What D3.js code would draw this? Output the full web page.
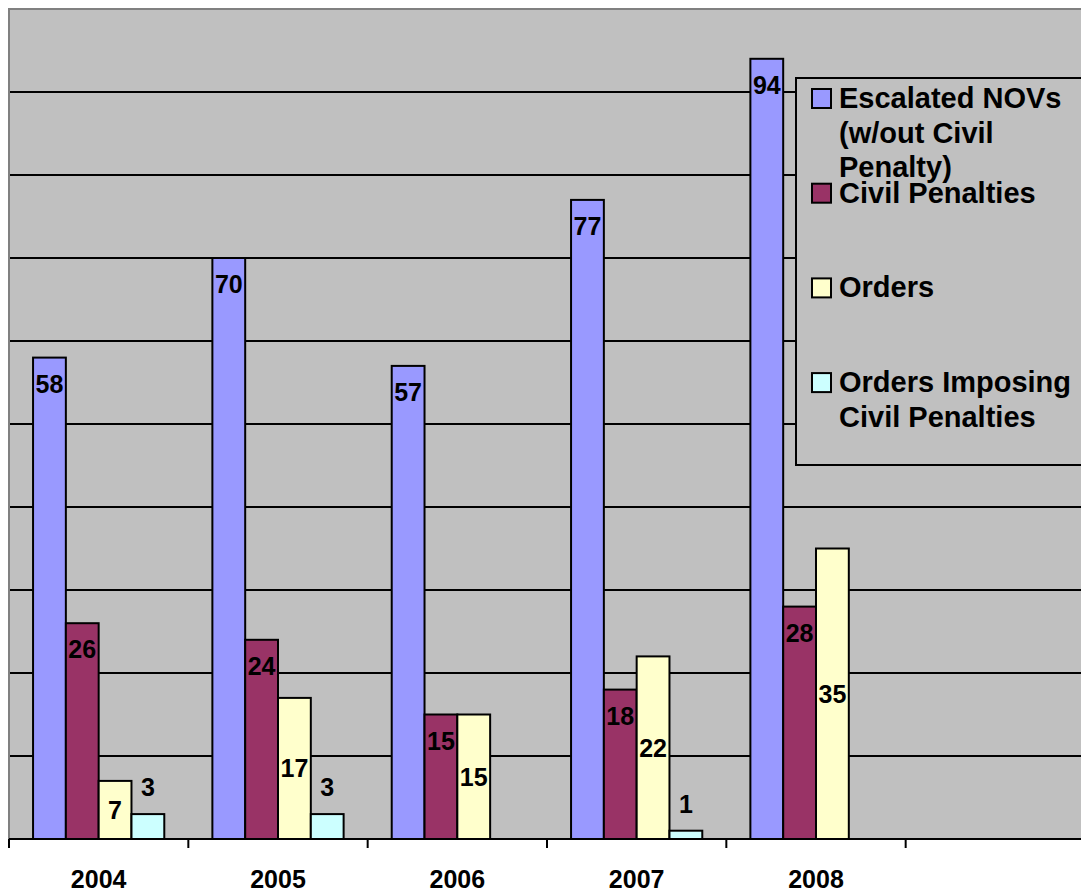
<!DOCTYPE html>
<html>
<head>
<meta charset="utf-8">
<script src="https://cdn.jsdelivr.net/npm/d3@7/dist/d3.min.js"></script>
<style>
  html, body { margin: 0; padding: 0; background: #ffffff; }
  svg { display: block; font-family: "Liberation Sans", Arial, sans-serif; font-weight: bold; }
</style>
</head>
<body>
<svg id="chart" width="1081" height="893"></svg>
<script>
// ---- Data ----
const categories = ["2004", "2005", "2006", "2007", "2008", ""];
const seriesNames = ["Escalated NOVs (w/out Civil Penalty)", "Civil Penalties", "Orders", "Orders Imposing Civil Penalties"];
const legendLines = [["Escalated NOVs", "(w/out Civil", "Penalty)"], ["Civil Penalties"], ["Orders"], ["Orders Imposing", "Civil Penalties"]];
const escalatedNOVs = [58, 70, 57, 77, 94];
const civilPenalties = [26, 24, 15, 18, 28];
const orders = [7, 17, 15, 22, 35];
const ordersImposing = [3, 3, 0, 1, 0];
const yTicks = [0, 10, 20, 30, 40, 50, 60, 70, 80, 90, 100];

const seriesValues = [escalatedNOVs, civilPenalties, orders, ordersImposing];
const colors = ["#9999FF", "#993366", "#FFFFCC", "#CCFFFF"];
const labelMode = ["insideEnd", "insideEnd", "center", "outsideEnd"];

// ---- Layout ----
const svg = d3.select("#chart");
const plot = { left: 9, top: 9, right: 1085, bottom: 839 };

const x0 = d3.scaleBand().domain(categories).range([plot.left, plot.right]).paddingInner(0).paddingOuter(0);
const x1 = d3.scaleBand().domain(d3.range(seriesNames.length)).range([0, x0.bandwidth()]).paddingInner(0).paddingOuter(0.733);
const y = d3.scaleLinear().domain([0, 100]).range([plot.bottom, plot.top]);

// plot background
svg.append("rect")
  .attr("x", plot.left).attr("y", plot.top)
  .attr("width", plot.right - plot.left).attr("height", plot.bottom - plot.top)
  .attr("fill", "#C0C0C0");

// gridlines
svg.append("g").selectAll("line")
  .data(yTicks.filter(t => t > 0 && t < 100))
  .join("line")
  .attr("x1", plot.left).attr("x2", plot.right)
  .attr("y1", d => y(d)).attr("y2", d => y(d))
  .attr("stroke", "#000").attr("stroke-width", 2);

// plot border (top & left gray)
svg.append("path")
  .attr("d", `M${plot.left},${plot.bottom}V${plot.top}H${plot.right}`)
  .attr("fill", "none").attr("stroke", "#808080").attr("stroke-width", 2);

// bars
const groups = svg.append("g").selectAll("g")
  .data(categories.slice(0, escalatedNOVs.length))
  .join("g")
  .attr("transform", d => `translate(${x0(d)},0)`);

groups.each(function(cat, ci) {
  const g = d3.select(this);
  seriesValues.forEach((vals, si) => {
    const v = vals[ci];
    if (!v) return;
    g.append("rect")
      .attr("x", x1(si)).attr("width", x1.bandwidth())
      .attr("y", y(v)).attr("height", y(0) - y(v))
      .attr("fill", colors[si]).attr("stroke", "#000").attr("stroke-width", 2);
    let cy;
    if (labelMode[si] === "insideEnd") cy = y(v) + 26;
    else if (labelMode[si] === "center") cy = (y(v) + y(0)) / 2;
    else cy = y(v) - 27;
    g.append("text")
      .attr("x", x1(si) + x1.bandwidth() / 2)
      .attr("y", cy + 9)
      .attr("text-anchor", "middle")
      .attr("font-size", 25)
      .attr("fill", "#000")
      .text(v);
  });
});

// x axis
svg.append("line")
  .attr("x1", plot.left).attr("x2", plot.right)
  .attr("y1", plot.bottom).attr("y2", plot.bottom)
  .attr("stroke", "#000").attr("stroke-width", 2);

const xAxis = d3.axisBottom(x0).tickSize(0).tickPadding(0);
const axG = svg.append("g").attr("transform", `translate(0,${plot.bottom})`).call(xAxis);
axG.select(".domain").remove();
axG.selectAll(".tick text")
  .attr("y", 49).attr("dy", 0)
  .attr("font-size", 25).attr("font-family", "Liberation Sans, Arial, sans-serif")
  .attr("font-weight", "bold").attr("fill", "#000");

// boundary ticks
const boundaries = categories.map(c => x0(c));
svg.append("g").selectAll("line")
  .data(boundaries)
  .join("line")
  .attr("x1", d => d).attr("x2", d => d)
  .attr("y1", plot.bottom).attr("y2", plot.bottom + 9)
  .attr("stroke", "#000").attr("stroke-width", 2);

// legend
const legend = { x: 796, y: 78, w: 300, h: 387 };
svg.append("rect")
  .attr("x", legend.x).attr("y", legend.y)
  .attr("width", legend.w).attr("height", legend.h)
  .attr("fill", "#C0C0C0").attr("stroke", "#000").attr("stroke-width", 2);

const itemStep = 94.7;
const lg = svg.append("g").selectAll("g")
  .data(seriesNames)
  .join("g")
  .attr("transform", (d, i) => `translate(${legend.x + 16},${legend.y + 11 + i * itemStep})`);

lg.append("rect")
  .attr("x", 0).attr("y", 0).attr("width", 19).attr("height", 19)
  .attr("fill", (d, i) => colors[i]).attr("stroke", "#000").attr("stroke-width", 2);

lg.append("text")
  .attr("x", 27).attr("y", 19)
  .attr("font-size", 29).attr("fill", "#000")
  .each(function(d, i) {
    const t = d3.select(this);
    legendLines[i].forEach((line, li) => {
      t.append("tspan").attr("x", 27).attr("dy", li === 0 ? 0 : 34.5).text(line);
    });
  });
</script>
</body>
</html>
